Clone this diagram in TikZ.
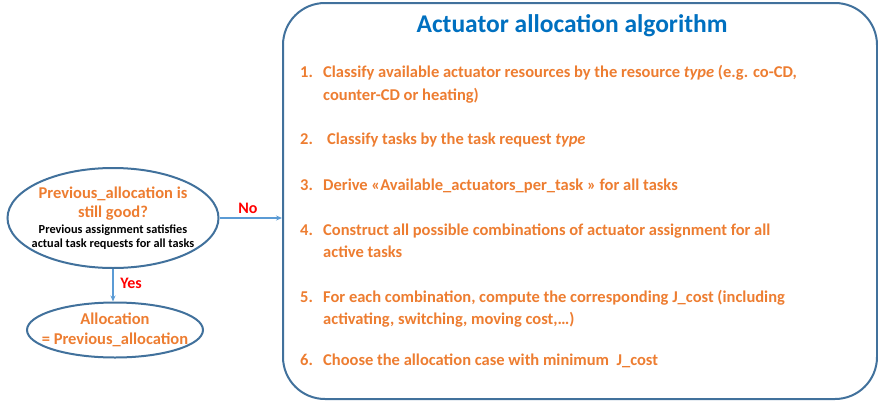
\documentclass[tikz,border=0pt]{standalone}
\usepackage{fontspec}
\setmainfont{Carlito}
\usetikzlibrary{arrows.meta,shapes.geometric}
\definecolor{orng}{HTML}{ED7D31}
\definecolor{ttlblue}{HTML}{0070C0}
\definecolor{edgeblue}{HTML}{41719C}
\definecolor{arrblue}{HTML}{5B9BD5}
\begin{document}
\begin{tikzpicture}[x=1pt,y=-1pt,
  oval/.style={ellipse, draw=edgeblue, line width=2pt, inner ysep=0pt, align=center},
  line/.style={anchor=base west, inner sep=0pt, text=orng, font=\bfseries\fontsize{16.5}{20}\selectfont},
  answer/.style={text=red, font=\bfseries\fontsize{16}{19}\selectfont, inner sep=0pt},
  flow/.style={draw=arrblue, line width=1.3pt, -{Stealth[length=6pt,width=5pt]}}]
\useasboundingbox (0,0) rectangle (878,402);
%大きい枠%
\node[draw=edgeblue, line width=2pt, rounded corners=42pt, minimum width=594pt, minimum height=396pt, inner sep=0pt] (algo) at (580,201) {};
\node[anchor=base, inner sep=0pt, text=ttlblue, font=\bfseries\fontsize{25.5}{28}\selectfont] (title) at (572,32) {Actuator allocation algorithm};
%手順%
\node[line] (n1) at (300,77) {1.};
\node[line] (t1) at (323,77) {Classify available actuator resources by the resource \textit{type} (e.g. co-CD,};
\node[line] (t1b) at (323,100) {counter-CD or heating)};
\node[line] (n2) at (300,144) {2.};
\node[line] (t2) at (327,144) {Classify tasks by the task request \textit{type}};
\node[line] (n3) at (300,190) {3.};
\node[line] (t3) at (323,190) {Derive «Available\_actuators\_per\_task » for all tasks};
\node[line] (n4) at (300,235) {4.};
\node[line] (t4) at (323,235) {Construct all possible combinations of actuator assignment for all};
\node[line] (t4b) at (323,257) {active tasks};
\node[line] (n5) at (300,302) {5.};
\node[line] (t5) at (323,302) {For each combination, compute the corresponding J\_cost (including};
\node[line] (t5b) at (323,324) {activating, switching, moving cost,…)};
\node[line] (n6) at (300,365) {6.};
\node[line] (t6) at (323,365) {Choose the allocation case with minimum\ \ J\_cost};
%判定%
\node[oval, inner xsep=-9pt, minimum width=211pt, minimum height=100pt, font=\bfseries\fontsize{12.3}{14}\selectfont] (check) at (113,218)
  {{\color{orng}\fontsize{16.5}{19}\selectfont Previous\_allocation is}\\[5pt]
   {\color{orng}\fontsize{16.5}{19}\selectfont still good?}\\[2pt]
   Previous assignment satisfies\\
   actual task requests for all tasks};
\node[oval, inner xsep=-14pt, minimum width=176pt, minimum height=55pt, text=orng, font=\bfseries\fontsize{16.5}{20}\selectfont] (keep) at (115,330)
  {Allocation\\= Previous\_allocation};
%矢印%
\draw[flow] (check.east) -- (check.east -| algo.west);
\draw[flow] (check.south) -- (keep.north -| check.south);
\node[answer] (no) at (248,208) {No};
\node[answer] (yes) at (131,283) {Yes};
\end{tikzpicture}
\end{document}
